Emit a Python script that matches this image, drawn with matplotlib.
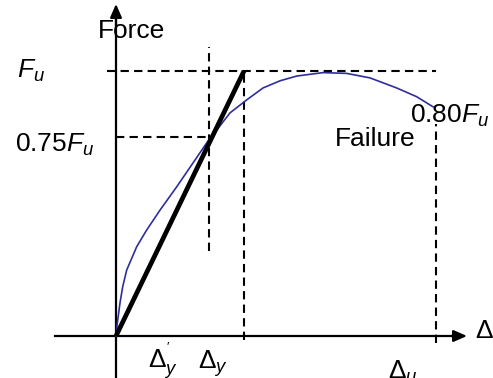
import matplotlib
matplotlib.use("Agg")
import matplotlib.pyplot as plt

plt.rcParams['font.family'] = ['Liberation Sans', 'DejaVu Sans']
plt.rcParams['mathtext.fontset'] = 'custom'
plt.rcParams['mathtext.rm'] = 'Liberation Sans'
plt.rcParams['mathtext.it'] = 'Liberation Sans:italic'

# --- data (F normalised by Fu, displacement in arbitrary units) ---
curve_x = [0.0, 0.013, 0.04, 0.067, 0.107, 0.207, 0.307, 0.44, 0.607, 0.77, 0.94, 1.007,
           1.14, 1.307, 1.47, 1.64, 1.807, 2.07, 2.307, 2.54, 2.807, 3.007, 3.17]
curve_f = [0.0, 0.048, 0.125, 0.186, 0.249, 0.337, 0.40, 0.475, 0.563, 0.653, 0.747, 0.777,
           0.842, 0.891, 0.936, 0.963, 0.981, 0.994, 0.991, 0.974, 0.936, 0.903, 0.865]
Fu = 1.0
F75 = 0.75
F80 = 0.80
delta_y_prime = 0.93
delta_y = 1.28
delta_u = 3.20

fig = plt.figure(figsize=(4.93, 3.78), dpi=100)
ax = fig.add_axes([0, 0, 1, 1])
ax.set_xlim(-1.16, 3.77)
ax.set_ylim(-0.1585, 1.268)
ax.axis('off')

k = dict(color='black', lw=1.5, ls=(0, (4, 2.5)))
# dashed guide lines
ax.plot([-0.09, delta_u], [Fu, Fu], **k)
ax.plot([0, delta_y_prime], [F75, F75], **k)
ax.plot([delta_y_prime, delta_y_prime], [0.32, 1.09], **k)
ax.plot([delta_y, delta_y], [-0.015, Fu], **k)
ax.plot([delta_u, delta_u], [-0.026, F80], **k)

# axes with arrows
ax.plot([0, 0], [-0.17, 1.2], color='black', lw=1.6)
ax.plot([-0.61, 3.38], [0, 0], color='black', lw=1.6)
ax.annotate('', xy=(0, 1.253), xytext=(0, 1.17),
            arrowprops=dict(arrowstyle='-|>,head_length=0.8,head_width=0.35',
                            color='black', lw=1.6, shrinkA=0, shrinkB=0))
ax.annotate('', xy=(3.51, 0), xytext=(3.35, 0),
            arrowprops=dict(arrowstyle='-|>,head_length=0.8,head_width=0.35',
                            color='black', lw=1.6, shrinkA=0, shrinkB=0))

# curve and bilinear line
ax.plot(curve_x, curve_f, color='#2e2e9a', lw=1.2, solid_joinstyle='round')
ax.plot([0, delta_y], [0, Fu], color='black', lw=3.4, solid_capstyle='butt')

fs = 19
ax.text(-0.18, 1.125, 'Force', fontsize=fs, ha='left', va='baseline')
ax.text(-0.99, 0.974, '$F_u$', fontsize=fs, ha='left', va='baseline')
ax.text(-1.01, 0.694, '0.75$F_u$', fontsize=fs, ha='left', va='baseline')
ax.text(2.94, 0.804, '0.80$F_u$', fontsize=fs, ha='left', va='baseline')
ax.text(2.19, 0.717, 'Failure', fontsize=fs, ha='left', va='baseline')
ax.text(0.32, -0.125, "$\\Delta^{'}_{y}$", fontsize=fs, ha='left', va='baseline')
ax.text(0.82, -0.125, '$\\Delta_y$', fontsize=fs, ha='left', va='baseline')
ax.text(2.72, -0.16, '$\\Delta_u$', fontsize=fs, ha='left', va='baseline')
ax.text(3.585, -0.0075, '$\\Delta$', fontsize=fs, ha='left', va='baseline')

fig.savefig('out.png', dpi=100)
